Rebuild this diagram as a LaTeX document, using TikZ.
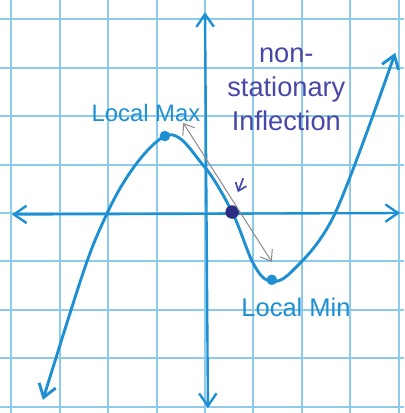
\documentclass[tikz,border=0pt]{standalone}
\usepackage{fontspec}
\setmainfont{Liberation Sans}
\usetikzlibrary{positioning,arrows.meta}
\definecolor{gridblue}{RGB}{140,203,235}
\definecolor{penblue}{RGB}{30,144,210}
\definecolor{inkblue}{RGB}{72,72,168}
\definecolor{dotnavy}{RGB}{42,45,130}
\tikzset{
  gridln/.style={gridblue,line width=1.1pt},
  barb/.style={{Straight Barb[length=2.6mm,width=3.6mm]}-{Straight Barb[length=2.6mm,width=3.6mm]}},
  axln/.style={barb,penblue,line width=1.4pt},
  curve/.style={barb,penblue,line width=1.7pt,line cap=round},
  pt/.style={circle,fill=penblue,inner sep=2.2pt},
  ipt/.style={circle,fill=dotnavy,inner sep=2.8pt},
  tang/.style={{Straight Barb[length=2mm,width=3mm]}-{Straight Barb[length=2mm,width=3mm]},black!45,line width=0.6pt},
  lblblue/.style={penblue,font=\fontsize{14}{17}\selectfont},
  lblink/.style={inkblue,font=\fontsize{16}{20}\selectfont,align=center},
}
\begin{document}
\begin{tikzpicture}
  \useasboundingbox (-4.236,-4.132) rectangle (4.112,4.401);
  \fill[white] (-4.236,-4.132) rectangle (4.112,4.401);
  % graph paper
  \draw[gridln] (-4.236,-4.132) grid (4.112,4.401);
  % axes
  \coordinate (xl) at (-3.99,-0.03);
  \coordinate (xr) at (4.03,0);
  \coordinate (yt) at (0,4.15);
  \coordinate (yb) at (0.06,-4.03);
  \draw[axln] (xl) -- (xr);
  \draw[axln] (yb) -- (yt);
  % the cubic
  \draw[curve] plot[smooth,tension=0.55] coordinates {(-3.35,-3.86) (-2.02,0)
    (-0.83,1.59) (-0.04,0.99) (0.56,0.02) (0.99,-1.03) (1.32,-1.40)
    (1.78,-1.22) (2.69,0) (3.93,3.31)};
  % special points
  \node[pt] (mx) at (-0.83,1.59) {};
  \node[pt] (mn) at (1.38,-1.38) {};
  \node[ipt] (ip) at (0.56,0.02) {};
  % tangent at the inflection
  \coordinate (ta) at (-0.45,1.86);
  \coordinate (tb) at (1.38,-1.01);
  \draw[tang] (ta) -- (tb);
  % labels
  \node[lblblue] (lmax) at (-1.22,2.07) {Local Max};
  \node[lblblue,font=\fontsize{15}{18}\selectfont] (lmin) at (1.88,-1.96) {Local Min};
  \node[lblink] (infl) at (1.68,2.55) {non-\\stationary\\Inflection};
  \coordinate (pa) at (0.79,0.72);
  \coordinate (pb) at (0.68,0.43);
  \draw[-{Straight Barb[length=1.5mm,width=2.4mm]},inkblue,line width=1pt] (pa) -- (pb);
\end{tikzpicture}
\end{document}
